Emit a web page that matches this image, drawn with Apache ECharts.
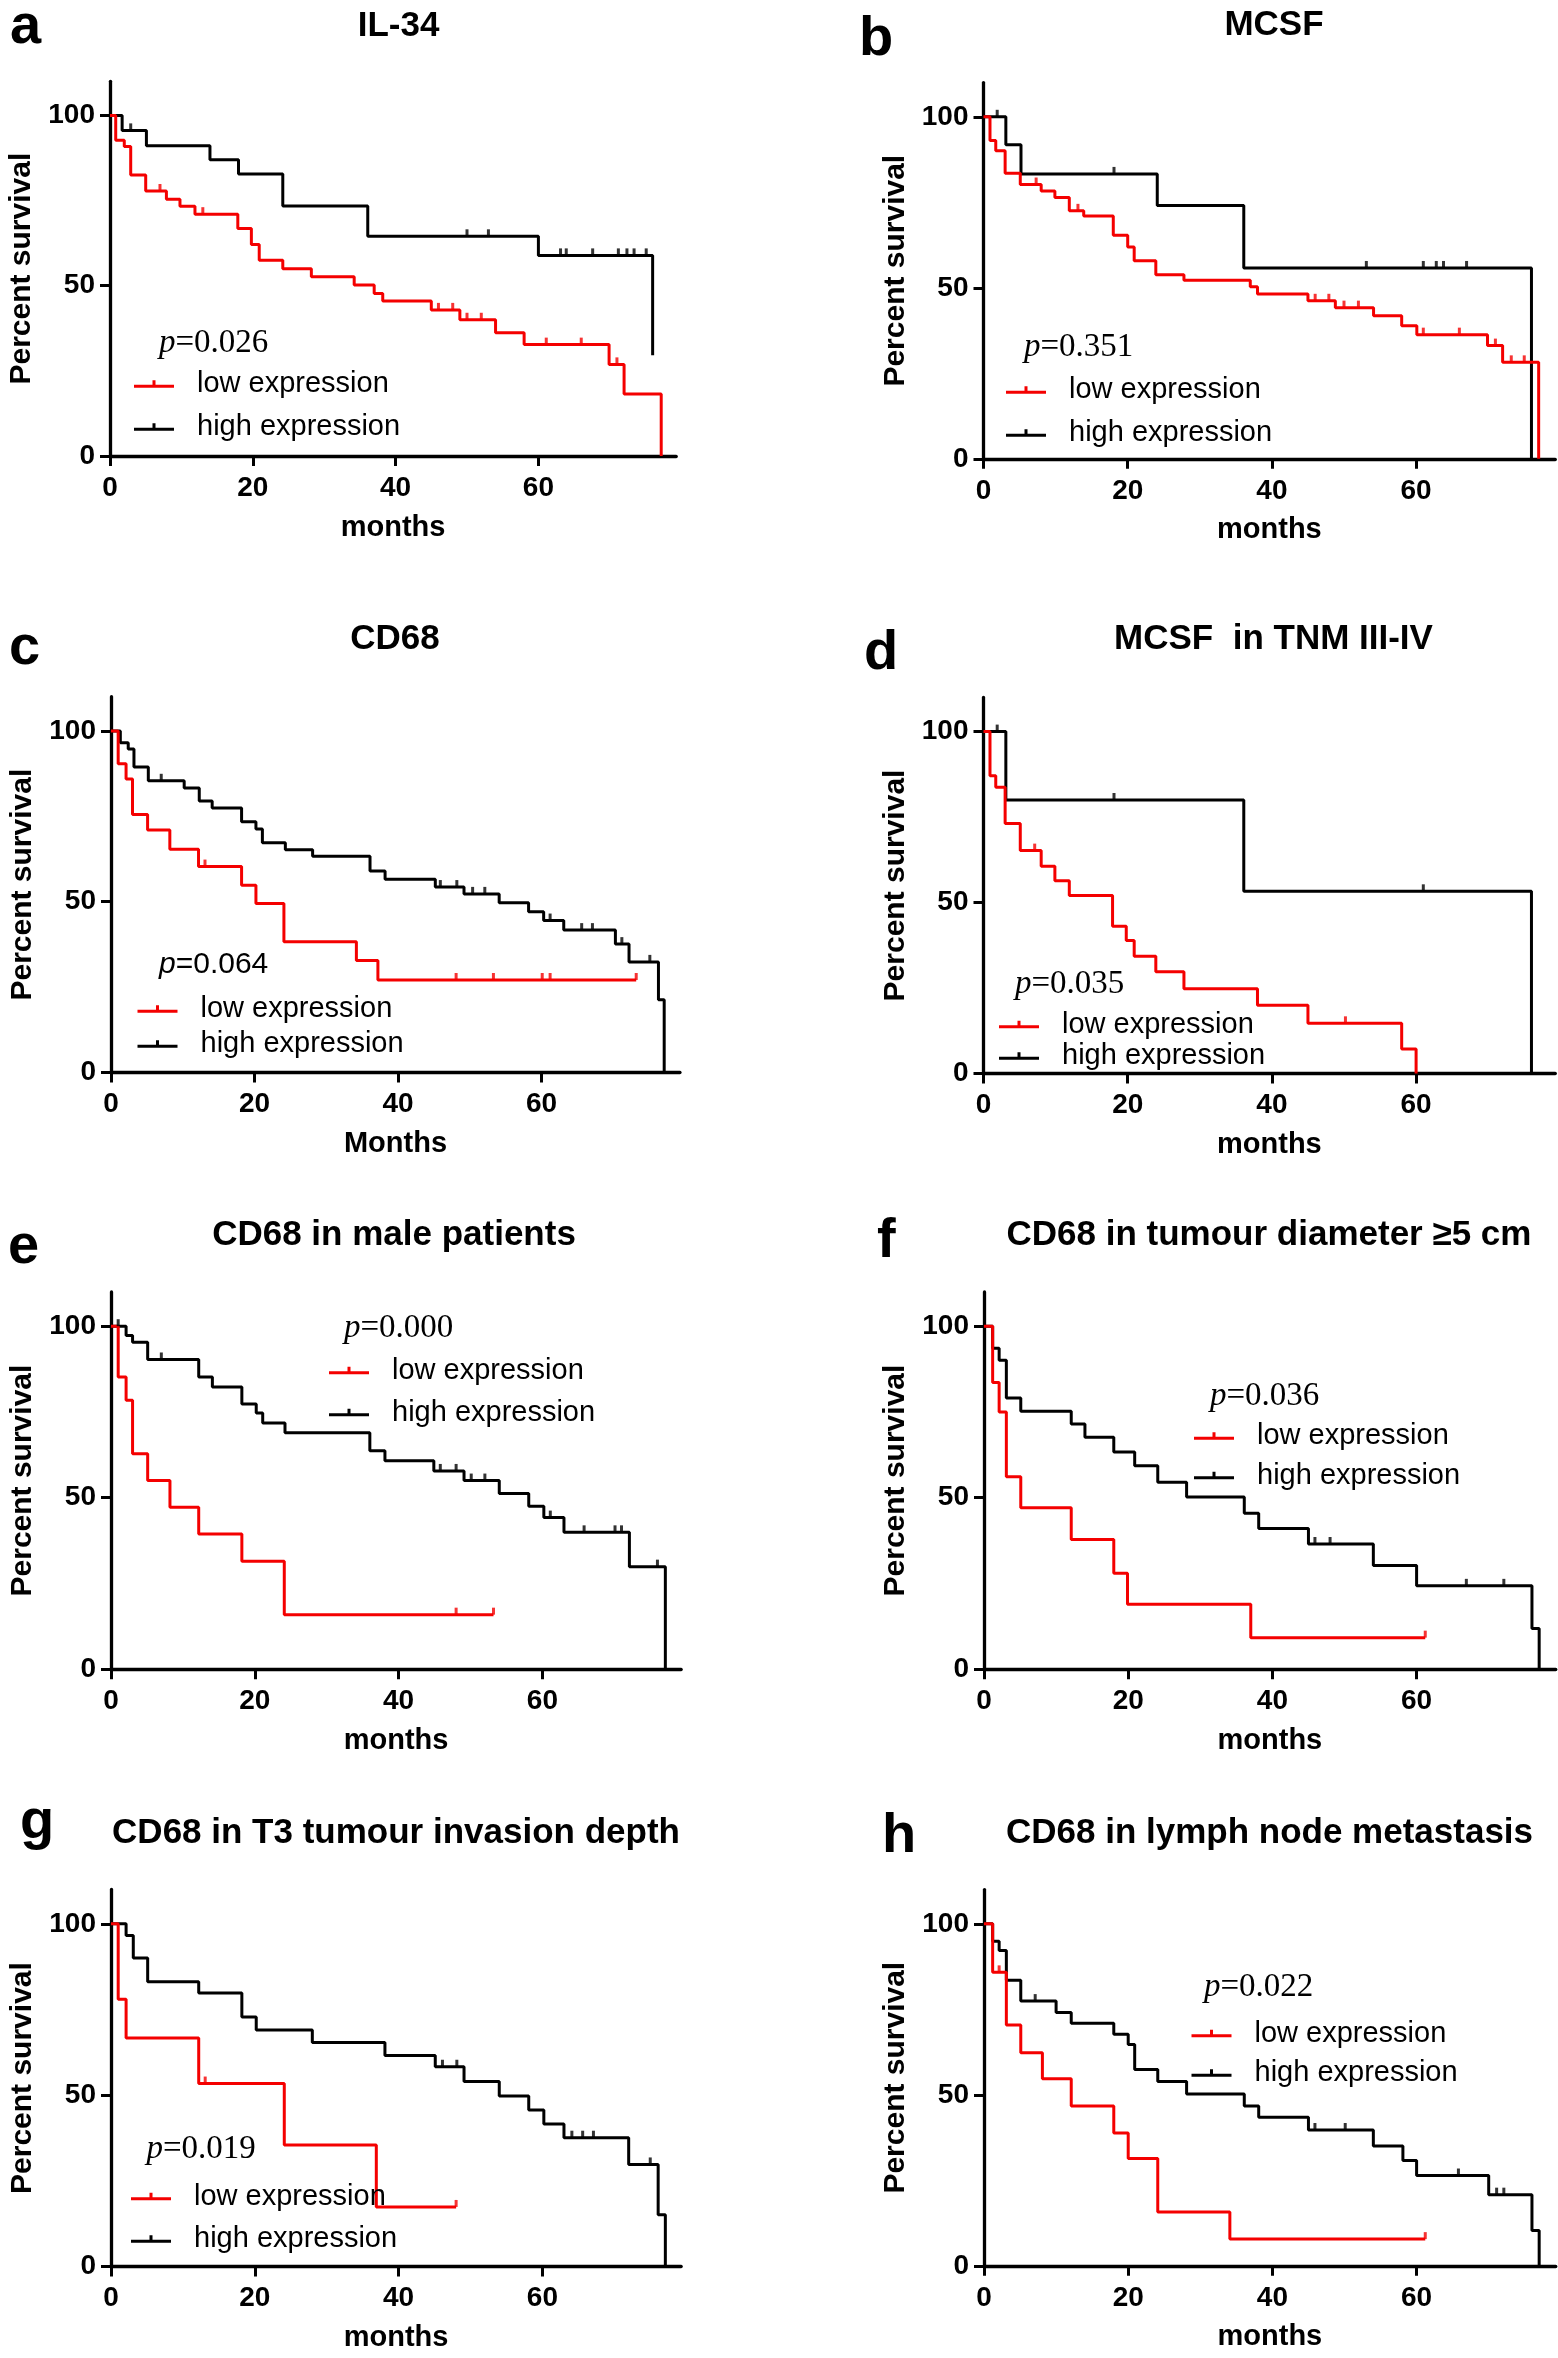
<!DOCTYPE html>
<html><head><meta charset="utf-8">
<script src="https://cdn.jsdelivr.net/npm/echarts@6/dist/echarts.min.js"></script>
<style>html,body{margin:0;padding:0;background:#fff}#c{width:1558px;height:2358px}</style>
</head><body><div id="c"></div>
<script>
// ---------- DATA (Kaplan-Meier step points [month, % survival]; censor times in months) ----------
const xTicks = [0, 20, 40, 60];
const yTicks = [0, 50, 100];

const a_high = [[0,100],[1.7,95.6],[5.1,91.1],[14,87.0],[18,82.8],[24.2,73.4],[36.1,64.5],[60,58.9],[76,29.6]];
const a_highCensor = [2.9, 50, 53, 63.1, 63.9, 67.6, 71.2, 72.4, 73.4, 75.1];
const a_low = [[0,100],[0.8,92.7],[2,90.9],[2.9,82.5],[5,77.8],[7.9,75.4],[9.8,73.3],[11.9,71.0],[17.9,66.8],[19.8,62.1],[20.9,57.5],[24.2,55.0],[28.2,52.6],[34.2,50.2],[37,47.7],[38.2,45.5],[45,42.9],[49,40.0],[54,36.2],[58,32.7],[69.9,26.9],[72,18.2],[77.2,0]];
const a_lowCensor = [7, 13, 46, 48, 50, 52, 61.1, 66, 71];

const b_high = [[0,100],[3.1,91.8],[5.2,83.3],[24.1,74.1],[36.1,55.8],[76,0]];
const b_highCensor = [1.9, 18.1, 53.1, 61, 62.8, 63.8, 67];
const b_low = [[0,100],[0.9,93.1],[1.7,90.1],[3,83.5],[5.1,80.2],[8,78.3],[9.9,76.4],[11.9,72.5],[13.9,71.0],[18,65.4],[20,61.9],[20.9,57.9],[23.9,53.8],[27.8,52.2],[37,50.3],[38,48.2],[45,46.2],[48.8,44.2],[54.1,41.8],[58,38.9],[60.1,36.3],[69.9,33.1],[72,28.2],[77,0]];
const b_lowCensor = [7.3, 13.1, 46, 47.9, 50, 52, 61, 66, 71, 73.2, 75];

const c_high = [[0,100],[1.3,96.5],[2.4,94.7],[3.2,89.4],[5.2,85.4],[10.2,83.3],[12.3,79.5],[14.1,77.4],[18.2,73.4],[20.2,71.3],[21.1,67.3],[24.3,65.2],[28.1,63.3],[36.1,59.0],[38.2,56.6],[45.2,54.3],[49.2,52.3],[54.1,49.7],[58.2,47.1],[60.3,44.5],[63.1,41.7],[70.3,37.6],[72.2,32.4],[76.3,21.3],[77.1,0]];
const c_highCensor = [7, 45.9, 48.2, 50.4, 52.1, 61.2, 65.6, 67.1, 71.2, 75.1];
const c_low = [[0,100],[1,90.4],[2.1,85.9],[3,75.5],[5.1,71.0],[8.2,65.4],[12.2,60.3],[18.2,54.8],[20.2,49.5],[24.1,38.3],[34.2,32.8],[37.2,27.1],[73.2,27.1]];
const c_lowCensor = [13.1, 48.1, 53.3, 60.1, 61.2, 73.2];

const d_high = [[0,100],[3.1,80.0],[36.1,53.3],[76,0]];
const d_highCensor = [1.9, 18.1, 61];
const d_low = [[0,100],[0.9,87.1],[1.7,83.7],[3,73.1],[5.1,65.2],[8,60.6],[9.9,56.4],[11.9,52.1],[17.9,43.1],[19.8,38.9],[20.9,34.3],[23.9,29.8],[27.8,24.8],[38,20.0],[45,14.7],[58,7.2],[60,0]];
const d_lowCensor = [7.1, 50.2];

const e_high = [[0,100],[2.1,97.3],[3,95.3],[5.1,90.3],[12.2,85.2],[14.1,82.3],[18.2,77.3],[20.2,74.7],[21.1,71.8],[24.2,68.9],[36,63.7],[38.1,60.8],[44.9,57.8],[49.1,55.0],[54,51.2],[58.1,47.5],[60.2,44.2],[63,39.9],[72.1,29.9],[77.1,0]];
const e_highCensor = [1, 7, 45.8, 48, 50.1, 52, 61.1, 65.8, 70.1, 71, 76];
const e_low = [[0,100],[1,85.2],[2.1,78.4],[3,62.8],[5.1,55.0],[8.2,47.2],[12.2,39.4],[18.2,31.5],[24.1,15.9],[53.2,15.9]];
const e_lowCensor = [48, 53.2];

const f_high = [[0,100],[1.2,93.6],[2.1,90.1],[3.1,79.1],[5.1,75.2],[12.1,71.5],[14,67.6],[18,63.3],[20.9,59.3],[24.1,54.5],[28.1,50.2],[36.1,45.5],[38.1,41.0],[45,36.5],[54,30.2],[60,24.3],[76,11.9],[77,0]];
const f_highCensor = [45.9, 48, 66.9, 72.1];
const f_low = [[0,100],[1.2,83.6],[2.1,75.0],[3.1,56.1],[5.1,47.1],[12.1,37.8],[18,28.0],[19.9,18.9],[37,9.2],[61.2,9.2]];
const f_lowCensor = [61.2];

const g_high = [[0,100],[2.1,96.6],[3.1,90.0],[5.1,83.1],[12.2,79.8],[18.2,72.8],[20.2,69.0],[28,65.4],[38.1,61.6],[45.1,58.3],[49.1,54.0],[54,49.8],[58.1,45.7],[60.2,41.6],[63,37.6],[72,29.8],[76.1,15.1],[77.1,0]];
const g_highCensor = [46.1, 48.1, 64.1, 65.6, 67.1, 75];
const g_low = [[0,100],[1,78.0],[2.1,66.7],[12.2,53.4],[24.1,35.5],[36.9,17.4],[48,17.4]];
const g_lowCensor = [13.1, 48];

const h_high = [[0,100],[1.2,94.9],[2.1,92.2],[3.1,83.5],[5.1,77.4],[10,74.1],[12.1,70.9],[18,67.7],[20,64.7],[20.9,57.4],[24.1,53.9],[28.1,50.2],[36.1,46.7],[38.1,43.4],[45,39.7],[54,35.0],[58.1,30.8],[60,26.4],[70,20.8],[76,10.3],[77,0]];
const h_highCensor = [7.1, 45.9, 50.1, 65.8, 71.1, 72.1];
const h_low = [[0,100],[1.2,85.8],[3.1,70.4],[5.1,62.3],[8.1,54.7],[12.1,46.7],[18,38.8],[20,31.4],[24.1,15.7],[34.1,7.8],[61.2,7.8]];
const h_lowCensor = [2.1, 61.2];

const letters = ['a','b','c','d','e','f','g','h'];
const titles = ['IL-34','MCSF','CD68','MCSF  in TNM III-IV','CD68 in male patients','CD68 in tumour diameter \u22655 cm','CD68 in T3 tumour invasion depth','CD68 in lymph node metastasis'];
const pValues = ['0.026','0.351','0.064','0.035','0.000','0.036','0.019','0.022'];
const xNames = ['months','months','Months','months','months','months','months','months'];
const seriesNames = ['low expression','high expression'];

// ---------- LAYOUT (pixels) ----------
const layout = [
  {x0:110,   px:7.14, y0:456,    py:3.406, leg:[134,384,43],     p:[159,343],    pSans:false, let:[10,28],   tit:[398.5,26.3]},
  {x0:983.5, px:7.21, y0:458.8,  py:3.42,  leg:[1006,390,43],    p:[1024,347],   pSans:false, let:[859,40],  tit:[1274,25.6]},
  {x0:111,   px:7.175,y0:1072.6, py:3.417, leg:[137.5,1009,35],  p:[159,964.4],  pSans:true,  let:[9,649],   tit:[395,639.8]},
  {x0:983.5, px:7.21, y0:1073.6, py:3.42,  leg:[999,1024.6,31.5],p:[1015,984.4], pSans:false, let:[864,654], tit:[1273.5,639.8]},
  {x0:111,   px:7.19, y0:1669.2, py:3.43,  leg:[329,1370.6,42],  p:[344,1328],   pSans:false, let:[8,1248],  tit:[394,1235.8]},
  {x0:984,   px:7.21, y0:1669.2, py:3.43,  leg:[1194,1436,39.6], p:[1210,1396.5],pSans:false, let:[877,1242], tit:[1269,1235.8]},
  {x0:111,   px:7.19, y0:2266.6, py:3.428, leg:[131,2196.5,42.5],p:[146.5,2149.7],pSans:false,let:[20,1823], tit:[396,1833.3]},
  {x0:984,   px:7.21, y0:2265.8, py:3.42,  leg:[1191.5,2033.6,39.5],p:[1204,1987.5],pSans:false,let:[882,1837],tit:[1269.5,1833.3]}
];

const curves = [
  [a_low,a_lowCensor,a_high,a_highCensor],
  [b_low,b_lowCensor,b_high,b_highCensor],
  [c_low,c_lowCensor,c_high,c_highCensor],
  [d_low,d_lowCensor,d_high,d_highCensor],
  [e_low,e_lowCensor,e_high,e_highCensor],
  [f_low,f_lowCensor,f_high,f_highCensor],
  [g_low,g_lowCensor,g_high,g_highCensor],
  [h_low,h_lowCensor,h_high,h_highCensor]
];

const FONT = '"Liberation Sans", Arial, sans-serif';
const SERIF = '"Liberation Serif", "Times New Roman", serif';
const RED = '#f40000';
const BLACK = '#000';
const XMAX = 79.3, YMAX = 110;
const ICON = 'path://M0,4.5H40V7.5H0Z M18.5,0H21.5V4.5H18.5Z';

function survAt(curve, t) {
  let s = curve[0][1];
  for (const pt of curve) { if (pt[0] <= t) s = pt[1]; else break; }
  return s;
}

const option = {
  animation: false,
  backgroundColor: '#fff',
  textStyle: { fontFamily: FONT },
  grid: [], xAxis: [], yAxis: [], series: [], legend: [], graphic: []
};

layout.forEach((L, i) => {
  option.grid.push({ left: L.x0, top: L.y0 - YMAX * L.py, width: XMAX * L.px, height: YMAX * L.py });
  option.xAxis.push({
    type: 'value', gridIndex: i, min: 0, max: XMAX,
    name: xNames[i], nameLocation: 'middle', nameGap: 57,
    nameTextStyle: { fontFamily: FONT, fontWeight: 'bold', fontSize: 29, color: BLACK },
    axisLine: { show: true, onZero: false, lineStyle: { color: BLACK, width: 3.3 } },
    axisTick: { show: true, customValues: xTicks, length: 10, lineStyle: { color: BLACK, width: 3 } },
    axisLabel: { customValues: xTicks, margin: 18, fontFamily: FONT, fontWeight: 'bold', fontSize: 28, color: BLACK },
    splitLine: { show: false }
  });
  option.yAxis.push({
    type: 'value', gridIndex: i, min: 0, max: YMAX,
    name: 'Percent survival', nameLocation: 'middle', nameGap: 73,
    nameTextStyle: { fontFamily: FONT, fontWeight: 'bold', fontSize: 30, color: BLACK },
    axisLine: { show: true, onZero: false, lineStyle: { color: BLACK, width: 3.3 } },
    axisTick: { show: true, customValues: yTicks, length: 10, lineStyle: { color: BLACK, width: 3 } },
    axisLabel: { customValues: yTicks, margin: 15, fontFamily: FONT, fontWeight: 'bold', fontSize: 28, color: BLACK },
    splitLine: { show: false }
  });
  const [low, lowC, high, highC] = curves[i];
  option.series.push({
    type: 'line', name: seriesNames[1], xAxisIndex: i, yAxisIndex: i, data: high, step: 'end',
    symbol: 'none', color: BLACK, lineStyle: { color: BLACK, width: 3 }, z: 2, silent: true
  });
  option.series.push({
    type: 'line', name: seriesNames[0], xAxisIndex: i, yAxisIndex: i, data: low, step: 'end',
    symbol: 'none', color: RED, lineStyle: { color: RED, width: 3 }, z: 3, silent: true
  });
  option.series.push({
    type: 'scatter', name: 'high censored', xAxisIndex: i, yAxisIndex: i,
    data: highC.map(t => [t, survAt(high, t)]),
    symbol: 'rect', symbolSize: [3, 7], symbolOffset: [0, -3.5], itemStyle: { color: BLACK }, z: 4, silent: true
  });
  option.series.push({
    type: 'scatter', name: 'low censored', xAxisIndex: i, yAxisIndex: i,
    data: lowC.map(t => [t, survAt(low, t)]),
    symbol: 'rect', symbolSize: [3, 7], symbolOffset: [0, -3.5], itemStyle: { color: RED }, z: 5, silent: true
  });
  option.legend.push({
    orient: 'vertical', left: L.leg[0], top: L.leg[1] - 15, itemGap: L.leg[2] - 30, padding: 0,
    itemWidth: 40, itemHeight: 7.5, selectedMode: false,
    itemStyle: { borderWidth: 0 },
    data: [{ name: seriesNames[0], icon: ICON }, { name: seriesNames[1], icon: ICON }],
    textStyle: { fontFamily: FONT, fontSize: 29, color: BLACK, lineHeight: 30, padding: [0, 0, 0, 18] }
  });
  option.graphic.push({ type: 'text', x: L.let[0], y: L.let[1], silent: true,
    style: { text: letters[i], font: 'bold 56px ' + FONT, fill: BLACK, align: 'left', verticalAlign: 'middle' } });
  option.graphic.push({ type: 'text', x: L.tit[0], y: L.tit[1], silent: true,
    style: { text: titles[i], font: 'bold 35px ' + FONT, fill: BLACK, align: 'center', verticalAlign: 'middle' } });
  const pf = L.pSans ? FONT : SERIF;
  const ps = L.pSans ? 30 : 33;
  option.graphic.push({ type: 'text', x: L.p[0], y: L.p[1], silent: true,
    style: { text: '{i|p}{r|=' + pValues[i] + '}', align: 'left', verticalAlign: 'middle', fill: BLACK,
      rich: { i: { font: 'italic ' + ps + 'px ' + pf, fill: BLACK }, r: { font: ps + 'px ' + pf, fill: BLACK } } } });
});

const chart = echarts.init(document.getElementById('c'), null, { renderer: 'canvas' });
chart.setOption(option);
</script>
</body></html>
